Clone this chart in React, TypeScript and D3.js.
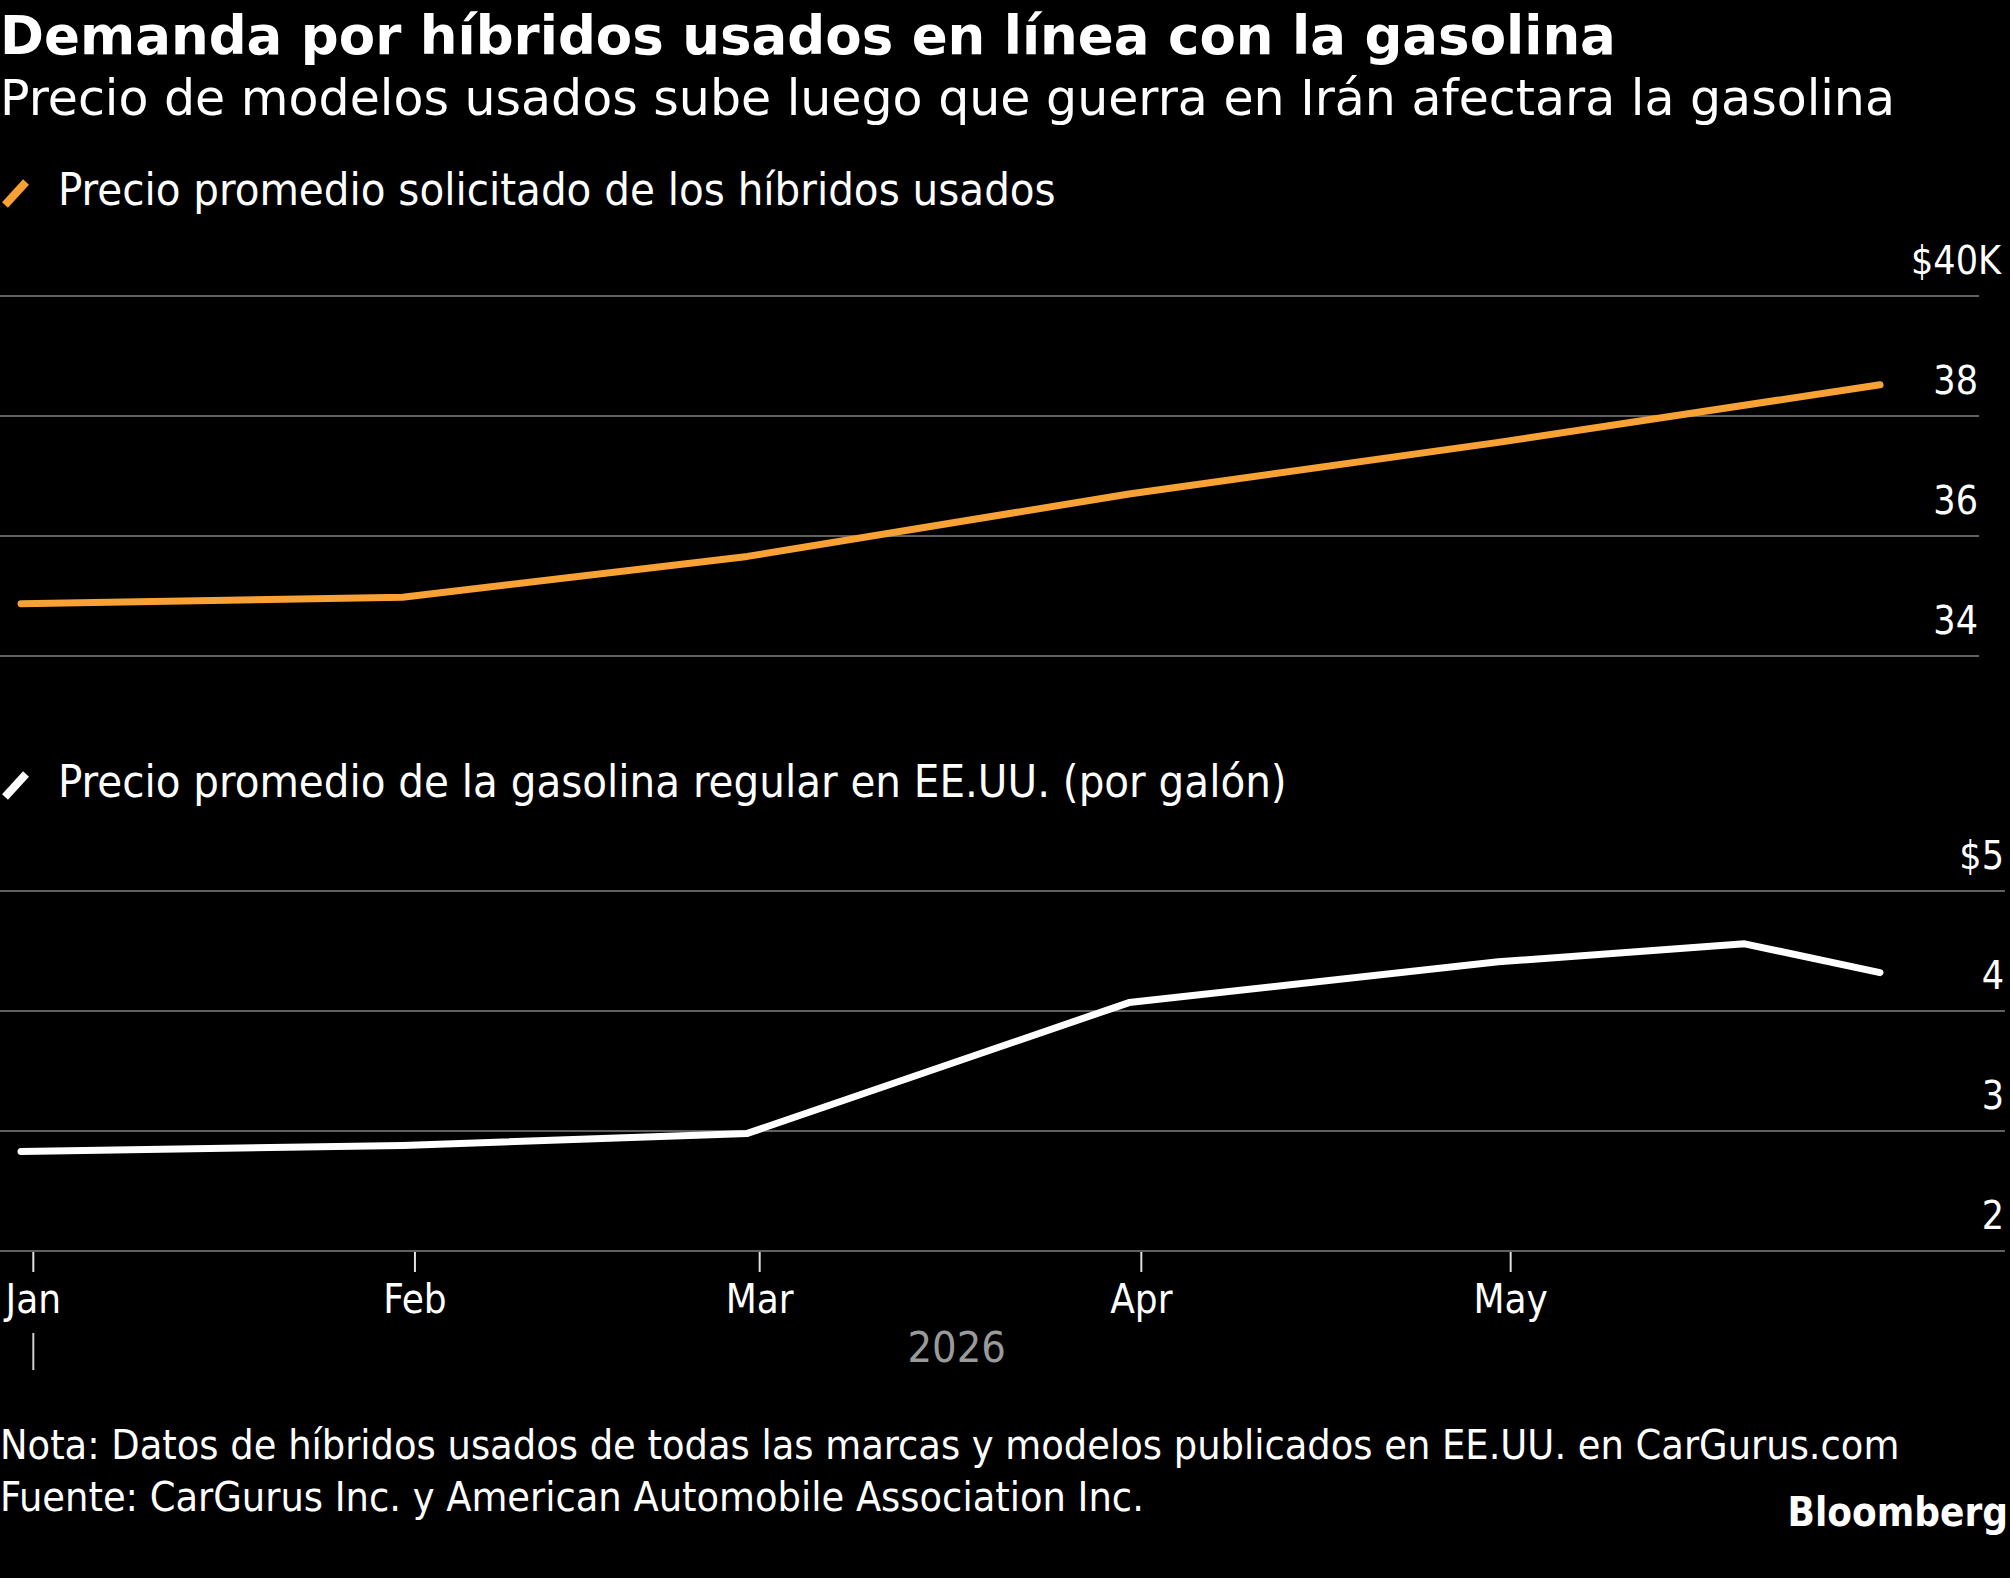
import { useEffect, useRef } from "react";
import * as d3 from "d3";

const WIDTH = 2010;
const HEIGHT = 1578;

const title = "Demanda por híbridos usados en línea con la gasolina";
const subtitle =
  "Precio de modelos usados sube luego que guerra en Irán afectara la gasolina";
const hybridLabel = "Precio promedio solicitado de los híbridos usados";
const gasLabel = "Precio promedio de la gasolina regular en EE.UU. (por galón)";
const note =
  "Nota: Datos de híbridos usados de todas las marcas y modelos publicados en EE.UU. en CarGurus.com";
const source = "Fuente: CarGurus Inc. y American Automobile Association Inc.";

// used hybrid average asking price (thousands of $)
const hybridDates = ["2025-12-31", "2026-01-31", "2026-02-28", "2026-03-31", "2026-04-30", "2026-05-31"];
const hybridPrices = [34.87, 34.98, 35.66, 36.7, 37.56, 38.52];

// US regular gasoline average price ($/gal)
const gasDates = ["2025-12-31", "2026-01-31", "2026-02-28", "2026-03-31", "2026-04-30", "2026-05-20", "2026-05-31"];
const gasPrices = [2.83, 2.88, 2.98, 4.07, 4.41, 4.56, 4.32];

const hybridTicks = [34, 36, 38, 40];
const gasTicks = [2, 3, 4, 5];
const monthTicks = ["2026-01-01", "2026-02-01", "2026-03-01", "2026-04-01", "2026-05-01"];
const monthLabels = ["Jan", "Feb", "Mar", "Apr", "May"];
const yearLabel = "2026";

const FONT = "'DejaVu Sans Condensed', 'DejaVu Sans', sans-serif";
const ORANGE = "#f8a235";
const GRID = "#606060";

function label(g: any, x: number, y: number, size: number, txt: string) {
  return g
    .append("text")
    .attr("x", x)
    .attr("y", y)
    .attr("fill", "white")
    .style("font-family", FONT)
    .style("font-stretch", "condensed")
    .style("font-size", size + "px")
    .text(txt);
}

function drawPanel(
  svg: any,
  x: any,
  y: any,
  ticks: number[],
  right: number,
  prefix: string,
  suffix: string,
  dates: string[],
  values: number[],
  color: string
) {
  const g = svg.append("g");
  ticks.forEach((t, i) => {
    g.append("line")
      .attr("x1", 0)
      .attr("x2", right)
      .attr("y1", y(t))
      .attr("y2", y(t))
      .attr("stroke", GRID)
      .attr("stroke-width", 2);
    const num = label(g, right - 1, y(t) - 22, 39, String(t)).attr("text-anchor", "end");
    if (i === ticks.length - 1) {
      // currency sign and unit hang outside the number column
      const w = num.node().getComputedTextLength();
      if (prefix) label(g, right - 1 - w, y(t) - 22, 39, prefix).attr("text-anchor", "end");
      if (suffix) label(g, right - 1, y(t) - 22, 39, suffix);
    }
  });

  const data = dates.map((d, i) => ({ date: new Date(d), v: values[i] }));
  g.append("path")
    .datum(data)
    .attr("fill", "none")
    .attr("stroke", color)
    .attr("stroke-width", 7)
    .attr("stroke-linejoin", "round")
    .attr("stroke-linecap", "round")
    .attr(
      "d",
      d3
        .line<any>()
        .x((d) => x(d.date))
        .y((d) => y(d.v))
    );
}

function legend(svg: any, yBase: number, color: string, txt: string) {
  svg
    .append("line")
    .attr("x1", 5)
    .attr("y1", yBase)
    .attr("x2", 26)
    .attr("y2", yBase - 23)
    .attr("stroke", color)
    .attr("stroke-width", 8);
  label(svg, 58, yBase, 45, txt);
}

export default function App() {
  const ref = useRef<SVGSVGElement>(null);

  useEffect(() => {
    document.body.style.margin = "0";
    document.body.style.background = "#000";
    const svg = d3.select(ref.current);
    svg.selectAll("*").remove();

    // titles
    svg
      .append("text")
      .attr("x", 0)
      .attr("y", 54)
      .attr("fill", "white")
      .style("font-family", "'DejaVu Sans', sans-serif")
      .style("font-weight", "bold")
      .style("font-size", "53px")
      .text(title);
    svg
      .append("text")
      .attr("x", 0)
      .attr("y", 115)
      .attr("fill", "white")
      .style("font-family", "'DejaVu Sans', sans-serif")
      .style("font-size", "49px")
      .text(subtitle);

    const x = d3
      .scaleUtc()
      .domain([new Date("2025-12-31"), new Date("2026-05-31")])
      .range([21, 1880]);
    const yTop = d3.scaleLinear().domain([34, 40]).range([656, 296]);
    const yBot = d3.scaleLinear().domain([2, 5]).range([1251, 891]);

    legend(svg, 205, ORANGE, hybridLabel);
    drawPanel(svg, x, yTop, hybridTicks, 1979, "$", "K", hybridDates, hybridPrices, ORANGE);

    legend(svg, 797, "white", gasLabel);
    drawPanel(svg, x, yBot, gasTicks, 2005, "$", "", gasDates, gasPrices, "white");

    // x axis
    const axis = svg.append("g");
    monthTicks.forEach((m, i) => {
      const px = x(new Date(m));
      axis
        .append("line")
        .attr("x1", px)
        .attr("x2", px)
        .attr("y1", 1252)
        .attr("y2", 1272)
        .attr("stroke", "#e0e0e0")
        .attr("stroke-width", 2);
      label(axis, px, 1313, 40, monthLabels[i]).attr("text-anchor", "middle");
    });
    const yearStart = x(new Date(monthTicks[0]));
    axis
      .append("line")
      .attr("x1", yearStart)
      .attr("x2", yearStart)
      .attr("y1", 1333)
      .attr("y2", 1370)
      .attr("stroke", "#cfcfcf")
      .attr("stroke-width", 2);
    label(axis, (yearStart + x.range()[1]) / 2, 1362, 43, yearLabel)
      .attr("text-anchor", "middle")
      .attr("fill", "#9a9a9a");

    // footer
    label(svg, 0, 1459, 41, note);
    label(svg, 0, 1511, 41, source);
    label(svg, 2008, 1526, 40, "Bloomberg")
      .attr("text-anchor", "end")
      .style("font-weight", "bold");
  }, []);

  return (
    <svg
      ref={ref}
      width={WIDTH}
      height={HEIGHT}
      style={{ display: "block", background: "#000" }}
    />
  );
}
